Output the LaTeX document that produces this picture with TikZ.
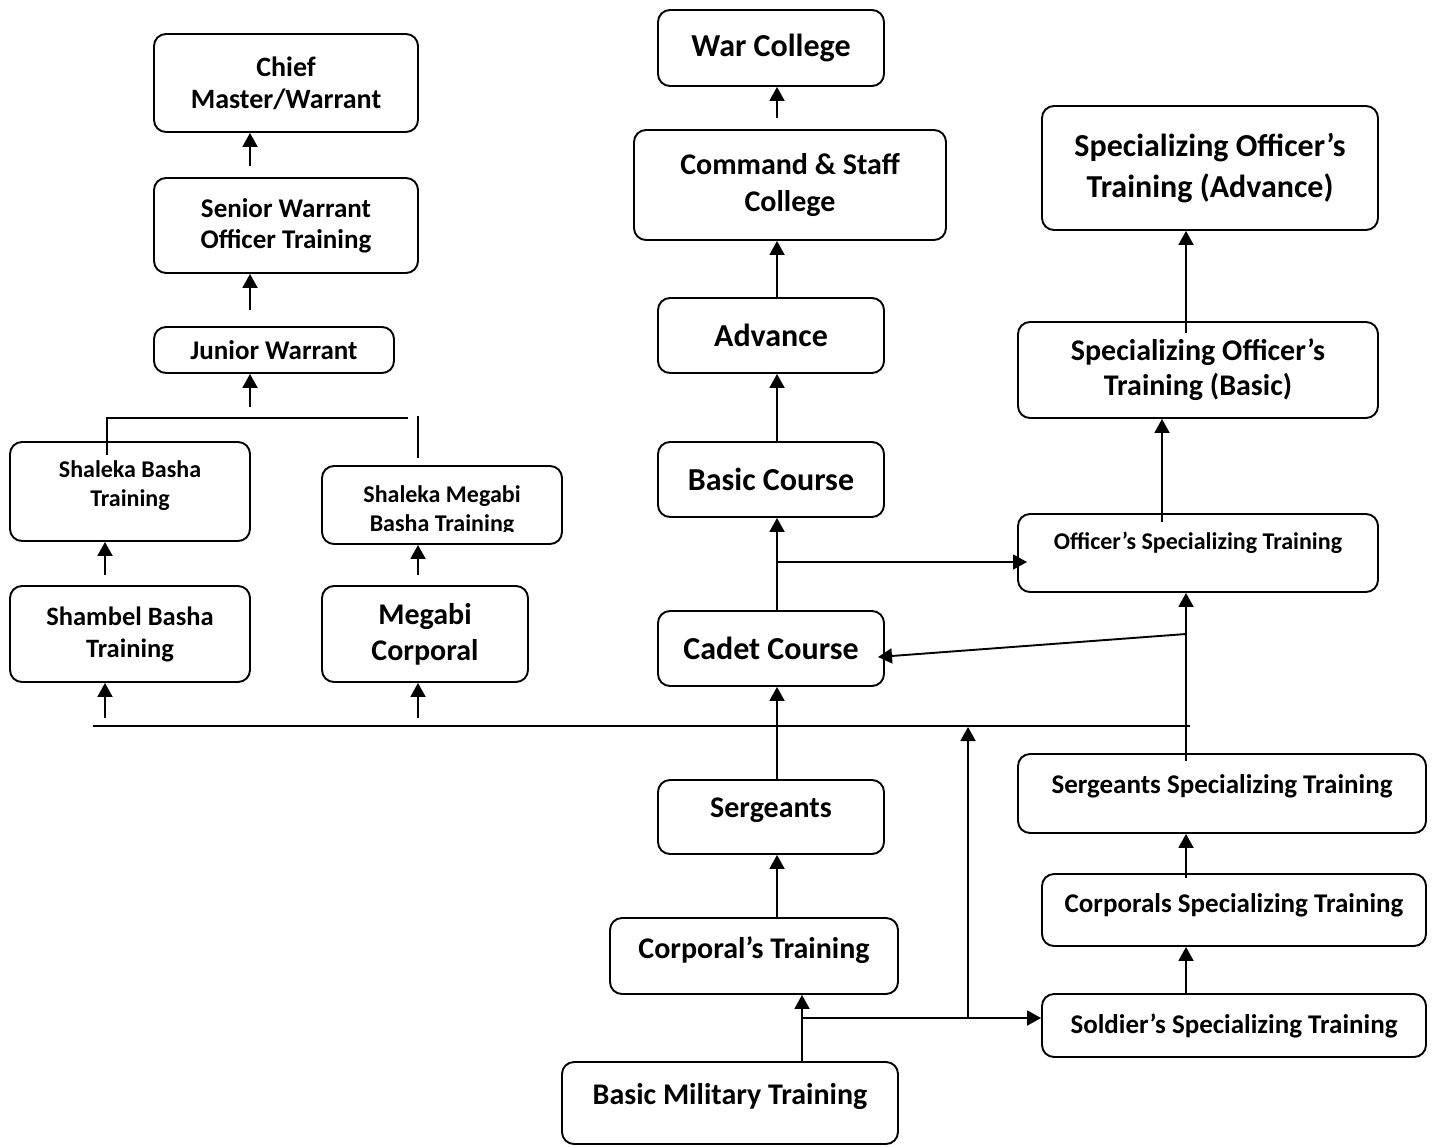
\documentclass[tikz,border=0pt]{standalone}
\usepackage{fontspec}
\setmainfont{Carlito}
\usetikzlibrary{arrows.meta}
\newcommand{\fs}[2]{\fontsize{#1}{#2}\selectfont\bfseries}
\begin{document}
\begin{tikzpicture}[x=1pt,y=-1pt,
  box/.style={draw, line width=1.9pt, rounded corners=12pt, align=center, inner sep=0pt},
  arr/.style={line width=1.9pt, -{Triangle[length=14pt,width=15pt]}},
  ln/.style={line width=1.9pt},
  txt/.style={align=center, inner sep=0pt}
]
\useasboundingbox (0,0) rectangle (1434,1146);
% left column
\node[box, minimum width=264pt, minimum height=98pt, font=\fs{28}{32}] (chief) at (286,83) {Chief\\Master/Warrant};
\node[box, minimum width=264pt, minimum height=95pt, font=\fs{27}{31}] (senior) at (286,225.5) {Senior Warrant\\Officer Training};
\node[box, minimum width=240pt, minimum height=46pt, font=\fs{27}{31}] (junior) at (274,350) {Junior Warrant};
\node[box, minimum width=240pt, minimum height=99pt, text depth=16pt, font=\fs{24}{29}] (shalB) at (130,491.5) {Shaleka Basha\\Training};
\node[box, minimum width=240pt, minimum height=78pt] (shalM) at (442,505) {};
\begin{scope}
\clip (322,466) rectangle (562,531);
\node[txt, font=\fs{24}{29}] (shalMt) at (442,511) {Shaleka Megabi\\Basha Training};
\end{scope}
\node[box, minimum width=240pt, minimum height=96pt, font=\fs{26.5}{32}] (shambel) at (130,634) {Shambel Basha\\Training};
\node[box, minimum width=206pt, minimum height=96pt, font=\fs{30}{36}] (megabi) at (425,634) {Megabi\\Corporal};
% middle column
\node[box, minimum width=226pt, minimum height=76pt, font=\fs{32}{36}] (war) at (771,48) {War College};
\node[box, minimum width=312pt, minimum height=110pt, font=\fs{30}{37}] (cmd) at (790,185) {Command \& Staff\\College};
\node[box, minimum width=226pt, minimum height=75pt, font=\fs{32}{36}] (adv) at (771,335.5) {Advance};
\node[box, minimum width=226pt, minimum height=75pt, font=\fs{32}{36}] (basic) at (771,479.5) {Basic Course};
\node[box, minimum width=226pt, minimum height=75pt, font=\fs{32}{36}] (cadet) at (771,648.5) {Cadet Course};
\node[box, minimum width=226pt, minimum height=74pt, text depth=18pt, font=\fs{30}{32}] (serg) at (771,817) {Sergeants};
\node[box, minimum width=288pt, minimum height=76pt, text depth=16pt, font=\fs{30}{32}] (corp) at (754,956) {Corporal’s Training};
\node[box, minimum width=336pt, minimum height=82pt, text depth=18pt, font=\fs{30}{32}] (bmt) at (730,1103) {Basic Military Training};
% right column
\node[box, minimum width=336pt, minimum height=124pt, font=\fs{32}{41}] (spadv) at (1210,168) {Specializing Officer’s\\Training (Advance)};
\node[box, minimum width=360pt, minimum height=96pt, font=\fs{30}{35}] (spbas) at (1198,370) {Specializing Officer’s\\Training (Basic)};
\node[box, minimum width=360pt, minimum height=78pt, text depth=24pt, font=\fs{24}{28}] (ost) at (1198,553) {Officer’s Specializing Training};
\node[box, minimum width=408pt, minimum height=79pt, text depth=18pt, font=\fs{27}{32}] (sst) at (1222,793.5) {Sergeants Specializing Training};
\node[box, minimum width=384pt, minimum height=72pt, text depth=14pt, font=\fs{27}{32}] (cst) at (1234,910) {Corporals Specializing Training};
\node[box, minimum width=384pt, minimum height=63pt, font=\fs{27}{32}] (sost) at (1234,1025.5) {Soldier’s Specializing Training};
% coordinates
\coordinate (c1) at (250,166);
\coordinate (c2) at (250,310);
\coordinate (c3) at (250,407);
\coordinate (t1) at (107,455);
\coordinate (t2) at (107,418);
\coordinate (t3) at (408,418);
\coordinate (t4) at (418,416);
\coordinate (t5) at (418,458);
\coordinate (c4) at (105,575);
\coordinate (c5) at (418,575);
\coordinate (c6) at (105,718);
\coordinate (c7) at (418,718);
\coordinate (h1) at (93,726);
\coordinate (h2) at (1190,726);
\coordinate (m1) at (777,118);
\coordinate (m2) at (777,562);
\coordinate (m2e) at (1027,562);
\coordinate (m3) at (1186,634);
\coordinate (m4) at (878,657);
\coordinate (b1) at (802,1018);
\coordinate (b2) at (968,1018);
\coordinate (b3) at (968,727);
\coordinate (r1) at (1186,761);
\coordinate (r2) at (1186,333);
\coordinate (r3) at (1162,522);
\coordinate (r4) at (1186,878);
% left connectors
\draw[arr] (c1) -- (c1 |- chief.south);
\draw[arr] (c2) -- (c2 |- senior.south);
\draw[arr] (c3) -- (c3 |- junior.south);
\draw[ln] (t1) -- (t2) -- (t3);
\draw[ln] (t4) -- (t5);
\draw[arr] (c4) -- (c4 |- shalB.south);
\draw[arr] (c5) -- (c5 |- shalM.south);
\draw[arr] (c6) -- (c6 |- shambel.south);
\draw[arr] (c7) -- (c7 |- megabi.south);
\draw[ln] (h1) -- (h2);
% middle connectors
\draw[arr] (m1) -- (m1 |- war.south);
\draw[arr] (adv.north -| m1) -- (m1 |- cmd.south);
\draw[arr] (basic.north -| m1) -- (m1 |- adv.south);
\draw[arr] (cadet.north -| m1) -- (m1 |- basic.south);
\draw[arr] (m2) -- (m2e);
\draw[arr] (m3) -- (m4);
\draw[arr] (serg.north -| m1) -- (m1 |- cadet.south);
\draw[arr] (corp.north -| m1) -- (m1 |- serg.south);
\draw[arr] (bmt.north -| b1) -- (b1 |- corp.south);
\draw[arr] (b1) -- (b1 -| sost.west);
\draw[arr] (b2) -- (b3);
% right connectors
\draw[arr] (r1) -- (r1 |- ost.south);
\draw[arr] (r2) -- (r2 |- spadv.south);
\draw[arr] (r3) -- (r3 |- spbas.south);
\draw[arr] (r4) -- (r4 |- sst.south);
\draw[arr] (sost.north -| r4) -- (r4 |- cst.south);
\end{tikzpicture}
\end{document}
